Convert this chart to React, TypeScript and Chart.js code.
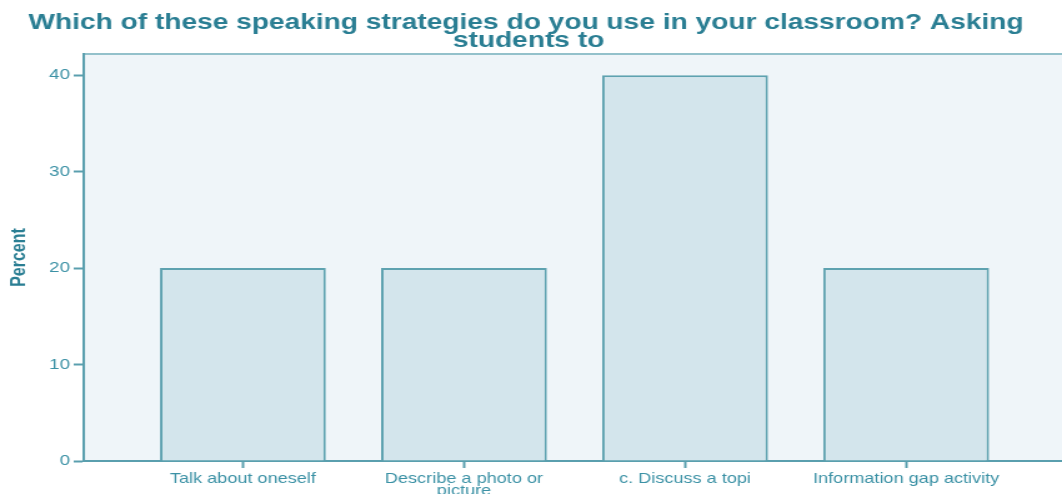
import { useEffect, useRef } from "react";
import { Chart, registerables } from "chart.js";

Chart.register(...registerables);

// Chart content
const TITLE_LINES = [
  "Which of these speaking strategies do you use in your classroom? Asking",
  "students to",
];
const CATEGORIES: string[][] = [
  ["Talk about oneself"],
  ["Describe a photo or", "picture"],
  ["c. Discuss a topi"],
  ["Information gap activity"],
];
const PERCENT = [20, 20, 40, 20];
const Y_TICKS = [0, 10, 20, 30, 40];
const Y_MAX = 42.2;
const X_MIN = -0.72;
const X_MAX = 3.705;

// The chart is drawn on a narrower bitmap and widened on screen.
const DRAW_W = 850;
const DRAW_H = 494;
const SHOWN_W = 1062;

const FONT = '"Liberation Sans", Arial, sans-serif';
const TITLE_COLOR = "#2a7e93";
const TEXT_COLOR = "#3b91a5";
const AXIS_COLOR = "#5a9fae";
const BAR_FILL = "#d3e5ec";
const BAR_EDGE = "#5ea2b0";
const PLOT_BG = "#eff5f9";
const TOP_EDGE = "#93c1cb";

const framePlugin = {
  id: "frame",
  beforeDraw(chart: Chart) {
    const { ctx, chartArea } = chart;
    ctx.save();
    ctx.fillStyle = PLOT_BG;
    ctx.fillRect(chartArea.left, chartArea.top, chartArea.right - chartArea.left, chartArea.bottom - chartArea.top);
    ctx.strokeStyle = TOP_EDGE;
    ctx.lineWidth = 2;
    ctx.beginPath();
    ctx.moveTo(chartArea.left, chartArea.top);
    ctx.lineTo(chartArea.right, chartArea.top);
    ctx.stroke();
    ctx.restore();
  },
  afterDraw(chart: Chart) {
    const { ctx } = chart;
    ctx.save();
    ctx.fillStyle = TITLE_COLOR;
    ctx.font = `bold 22.5px ${FONT}`;
    ctx.textAlign = "center";
    ctx.textBaseline = "alphabetic";
    ctx.fillText(TITLE_LINES[0], 421, 28.5);
    ctx.fillText(TITLE_LINES[1], 423, 46.5);
    ctx.restore();
  },
};

export default function App() {
  const canvasRef = useRef<HTMLCanvasElement | null>(null);

  useEffect(() => {
    document.body.style.margin = "0";
    const canvas = canvasRef.current;
    if (!canvas) return;

    const chart = new Chart(canvas, {
      type: "bar",
      data: {
        datasets: [
          {
            label: "Percent",
            data: PERCENT.map((v, i) => ({ x: i, y: v })),
            backgroundColor: BAR_FILL,
            borderColor: BAR_EDGE,
            borderWidth: 2,
            barPercentage: 0.75,
            categoryPercentage: 1,
          },
        ],
      },
      options: {
        animation: false,
        responsive: false,
        devicePixelRatio: 1,
        layout: { padding: { top: 54, right: 0, bottom: 0, left: 0 } },
        plugins: {
          legend: { display: false },
          title: { display: false },
          tooltip: { enabled: false },
        },
        scales: {
          x: {
            type: "linear",
            min: X_MIN,
            max: X_MAX,
            offset: false,
            afterBuildTicks: (s: any) => {
              s.ticks = CATEGORIES.map((_, i) => ({ value: i }));
            },
            afterFit: (s: any) => {
              s.height = 33;
            },
            grid: { offset: false, drawOnChartArea: false, drawTicks: true, tickLength: 7, tickWidth: 2, color: AXIS_COLOR },
            border: { display: true, color: AXIS_COLOR, width: 2 },
            ticks: {
              autoSkip: false,
              maxRotation: 0,
              padding: 5,
              color: TEXT_COLOR,
              font: { family: FONT, size: 14.5, lineHeight: 0.83 },
              callback: (v: any) => CATEGORIES[Math.round(Number(v))] ?? "",
            },
          },
          y: {
            min: 0,
            max: Y_MAX,
            afterBuildTicks: (s: any) => {
              s.ticks = Y_TICKS.map((v) => ({ value: v }));
            },
            afterFit: (s: any) => {
              s.width = 67;
            },
            grid: { drawOnChartArea: false, drawTicks: true, tickLength: 8, tickWidth: 2, color: AXIS_COLOR },
            border: { display: true, color: AXIS_COLOR, width: 2 },
            ticks: {
              padding: 3,
              color: TEXT_COLOR,
              font: { family: FONT, size: 15 },
            },
            title: {
              display: true,
              text: "Percent",
              color: TITLE_COLOR,
              font: { family: FONT, size: 16, weight: "bold" },
              padding: { top: 6, bottom: 0 },
            },
          },
        },
      },
      plugins: [framePlugin],
    });

    return () => chart.destroy();
  }, []);

  return (
    <canvas
      ref={canvasRef}
      width={DRAW_W}
      height={DRAW_H}
      style={{ display: "block", width: `${SHOWN_W}px`, height: `${DRAW_H}px` }}
    />
  );
}
